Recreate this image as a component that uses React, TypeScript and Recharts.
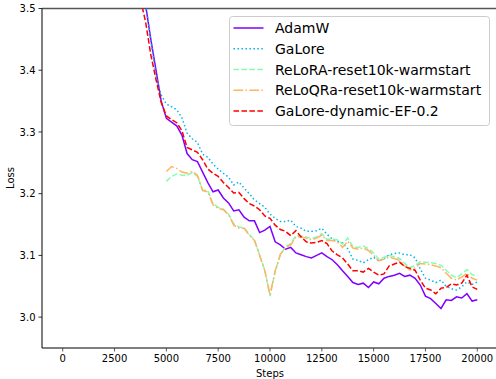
import React from 'react';
import { LineChart, Line, XAxis, YAxis, Legend, ReferenceLine } from 'recharts';

const steps = [
  3750, 4000, 4250, 4500, 4750, 5000, 5250, 5500, 5750, 6000, 6250, 6500, 6750, 7000, 7250, 7500,
  7750, 8000, 8250, 8500, 8750, 9000, 9250, 9500, 9750, 10000, 10250, 10500, 10750, 11000, 11250,
  11500, 11750, 12000, 12250, 12500, 12750, 13000, 13250, 13500, 13750, 14000, 14250, 14500, 14750,
  15000, 15250, 15500, 15750, 16000, 16250, 16500, 16750, 17000, 17250, 17500, 17750, 18000, 18250,
  18500, 18750, 19000, 19250, 19500, 19750, 20000,
];

const adamw = [
  3.56, 3.505, 3.45, 3.4, 3.35, 3.322, 3.316, 3.31, 3.295, 3.265, 3.255, 3.252, 3.235, 3.218, 3.203, 3.206,
  3.193, 3.185, 3.172, 3.174, 3.162, 3.156, 3.156, 3.137, 3.141, 3.147, 3.122, 3.117, 3.11, 3.113, 3.104,
  3.101, 3.098, 3.096, 3.1, 3.104, 3.098, 3.093, 3.085, 3.075, 3.066, 3.056, 3.053, 3.055, 3.048,
  3.057, 3.054, 3.063, 3.066, 3.068, 3.071, 3.066, 3.068, 3.063, 3.052, 3.034, 3.03, 3.022, 3.014,
  3.028, 3.027, 3.033, 3.031, 3.038, 3.026, 3.028,
];

const galore = [
  3.57, 3.51, 3.448, 3.392, 3.36, 3.345, 3.341, 3.336, 3.323, 3.298, 3.289, 3.283, 3.264, 3.259, 3.248, 3.24,
  3.233, 3.227, 3.214, 3.219, 3.209, 3.2, 3.19, 3.184, 3.178, 3.167, 3.16, 3.155, 3.155, 3.157, 3.147,
  3.144, 3.139, 3.139, 3.14, 3.144, 3.134, 3.127, 3.123, 3.12, 3.111, 3.094, 3.092, 3.088, 3.093,
  3.097, 3.091, 3.095, 3.101, 3.103, 3.104, 3.101, 3.101, 3.096, 3.078, 3.063, 3.06, 3.056, 3.06,
  3.05, 3.046, 3.044, 3.049, 3.057, 3.053, 3.057,
];

const relora = [
  null, null, null, null, null, 3.22, 3.228, 3.232, 3.23, 3.23, 3.234, 3.228, 3.206, 3.205, 3.184, 3.178,
  3.175, 3.167, 3.151, 3.146, 3.145, 3.134, 3.125, 3.101, 3.076, 3.034, 3.074, 3.101, 3.114, 3.119, 3.132,
  3.132, 3.13, 3.127, 3.13, 3.135, 3.126, 3.127, 3.125, 3.118, 3.128, 3.114, 3.113, 3.115, 3.111,
  3.104, 3.094, 3.097, 3.1, 3.098, 3.095, 3.087, 3.08, 3.084, 3.09, 3.089, 3.088, 3.087, 3.084,
  3.076, 3.068, 3.064, 3.07, 3.077, 3.069, 3.067,
];

const reloqra = [
  null, null, null, null, null, 3.236, 3.244, 3.241, 3.235, 3.233, 3.236, 3.23, 3.205, 3.203, 3.182, 3.176,
  3.174, 3.166, 3.149, 3.144, 3.144, 3.133, 3.124, 3.1, 3.075, 3.036, 3.075, 3.102, 3.113, 3.117, 3.13,
  3.13, 3.128, 3.125, 3.128, 3.133, 3.124, 3.124, 3.122, 3.113, 3.123, 3.112, 3.11, 3.112, 3.108,
  3.1, 3.091, 3.094, 3.097, 3.095, 3.092, 3.083, 3.076, 3.08, 3.087, 3.086, 3.085, 3.083, 3.08,
  3.071, 3.063, 3.06, 3.065, 3.071, 3.063, 3.06,
];

const galoreEF = [
  3.515, 3.478, 3.425, 3.385, 3.348, 3.326, 3.32, 3.315, 3.302, 3.275, 3.271, 3.267, 3.255, 3.24, 3.233, 3.228,
  3.218, 3.21, 3.201, 3.202, 3.192, 3.184, 3.18, 3.174, 3.164, 3.16, 3.149, 3.142, 3.139, 3.132, 3.14,
  3.13, 3.122, 3.12, 3.121, 3.124, 3.119, 3.107, 3.101, 3.096, 3.086, 3.075, 3.075, 3.073, 3.079,
  3.073, 3.068, 3.07, 3.083, 3.086, 3.089, 3.082, 3.079, 3.076, 3.06, 3.047, 3.044, 3.038, 3.047,
  3.048, 3.054, 3.052, 3.055, 3.068, 3.049, 3.045,
];

const xTicks = [0, 2500, 5000, 7500, 10000, 12500, 15000, 17500, 20000];
const yTicks = [3.0, 3.1, 3.2, 3.3, 3.4, 3.5];

const seriesNames = [
  'AdamW',
  'GaLore',
  'ReLoRA-reset10k-warmstart',
  'ReLoQRa-reset10k-warmstart',
  'GaLore-dynamic-EF-0.2',
];
const seriesKeys = ['adamw', 'galore', 'relora', 'reloqra', 'galoreEF'];
const seriesColors = ['#8000ff', '#00b5eb', '#80ffb4', '#ffb462', '#ff0000'];
const seriesDash = ['', '1.5 2.475', '5.55 2.4', '9.6 2.4 1.5 2.4', '5.55 2.4'];

const data = steps.map((s, i) => ({
  step: s,
  adamw: adamw[i],
  galore: galore[i],
  relora: relora[i],
  reloqra: reloqra[i],
  galoreEF: galoreEF[i],
}));

const FONT = '"DejaVu Sans", sans-serif';

const LegendBox = () => (
  <svg width={262} height={111} style={{ display: 'block', fontFamily: FONT }}>
    <rect x={0.5} y={0.5} width={260} height={109} rx={3} ry={3} fill="#ffffff" fillOpacity={0.8} stroke="#cccccc" strokeWidth={1} />
    {seriesNames.map((name, i) => {
      const y = 12 + i * 20.75;
      return (
        <g key={name}>
          <line x1={4.5} x2={34.5} y1={y} y2={y} stroke={seriesColors[i]} strokeWidth={1.5} strokeDasharray={seriesDash[i] || undefined} />
          <text x={46} y={y} fontSize={14} fill="#000" dominantBaseline="central">
            {name}
          </text>
        </g>
      );
    })}
  </svg>
);

export default function App() {
  return (
    <div style={{ position: 'absolute', left: 0, top: 0, width: 496, height: 379, overflow: 'hidden', background: '#fff' }}>
      <LineChart
        width={500}
        height={379}
        data={data}
        margin={{ top: 8.5, right: 2, bottom: 0, left: 0 }}
        style={{ fontFamily: FONT }}
      >
        <XAxis
          dataKey="step"
          type="number"
          domain={[-1000, 21000]}
          ticks={xTicks}
          allowDataOverflow
          height={31}
          tickSize={3.5}
          tickMargin={3}
          tick={{ fontSize: 10, fill: '#000', fontFamily: FONT }}
          axisLine={{ stroke: '#555', strokeWidth: 1.5 }}
          tickLine={{ stroke: '#333', strokeWidth: 0.8 }}
          label={{
            content: () => (
              <text x={270} y={373} textAnchor="middle" dominantBaseline="central" fontSize={10} fill="#000" fontFamily={FONT}>
                Steps
              </text>
            ),
          }}
        />
        <YAxis
          type="number"
          domain={[2.95, 3.5]}
          ticks={yTicks}
          allowDataOverflow
          width={42}
          tickSize={3.5}
          tickMargin={3}
          tickFormatter={(v: number) => v.toFixed(1)}
          tick={{ fontSize: 10, fill: '#000', fontFamily: FONT }}
          axisLine={{ stroke: '#000', strokeWidth: 1 }}
          tickLine={{ stroke: '#000', strokeWidth: 0.8 }}
          label={{
            content: () => (
              <text
                x={10.5}
                y={178}
                transform="rotate(-90 10.5 178)"
                textAnchor="middle"
                dominantBaseline="central"
                fontSize={10}
                fill="#000"
                fontFamily={FONT}
              >
                Loss
              </text>
            ),
          }}
        />
        <ReferenceLine y={3.5} stroke="#555" strokeWidth={1.5} ifOverflow="visible" />
        {seriesKeys.map((k, i) => (
          <Line
            key={k}
            type="linear"
            dataKey={k}
            name={seriesNames[i]}
            stroke={seriesColors[i]}
            strokeWidth={1.5}
            strokeDasharray={seriesDash[i] || undefined}
            dot={false}
            activeDot={false}
            isAnimationActive={false}
            connectNulls={false}
          />
        ))}
        <Legend
          layout="vertical"
          align="center"
          verticalAlign="middle"
          wrapperStyle={{ left: 229, top: 16, width: 262, height: 111 }}
          content={() => <LegendBox />}
        />
      </LineChart>
    </div>
  );
}
